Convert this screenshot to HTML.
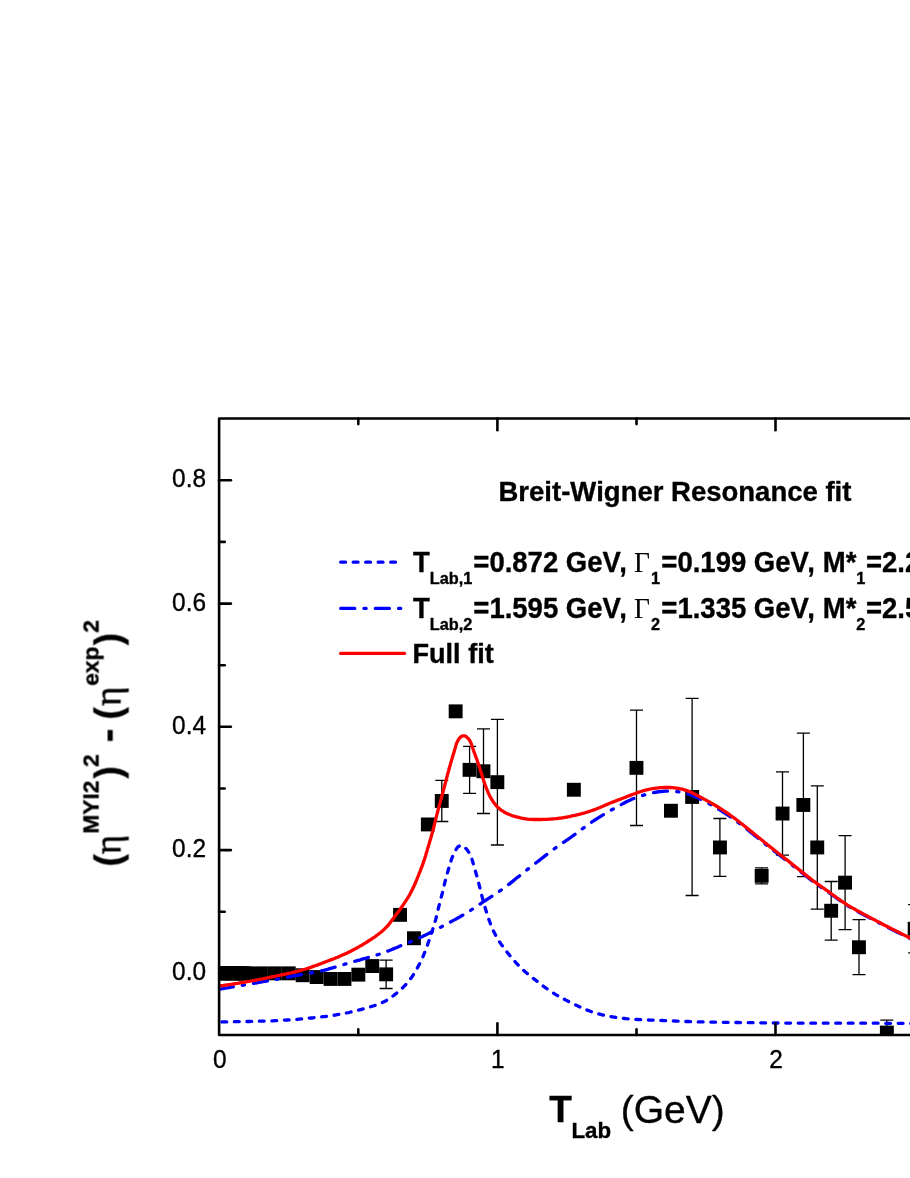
<!DOCTYPE html>
<html><head><meta charset="utf-8"><title>Breit-Wigner Resonance fit</title>
<style>html,body{margin:0;padding:0;background:#fff;overflow:hidden;}svg{display:block;}text{font-family:"Liberation Sans",sans-serif;fill:#000;stroke:#000;stroke-width:0.35px;font-kerning:none;}.b{font-weight:bold;}.sf{font-family:"Liberation Serif",serif;}</style></head><body>
<svg width="910" height="1178" viewBox="0 0 910 1178">
<rect width="910" height="1178" fill="#fff"/>
<filter id="soft" x="0" y="0" width="910" height="1178" filterUnits="userSpaceOnUse"><feGaussianBlur stdDeviation="0.5"/></filter>
<defs><clipPath id="cp"><rect x="219.1" y="418.5" width="695.9" height="616.5"/></clipPath></defs>
<g filter="url(#soft)">
<g clip-path="url(#cp)">
<g stroke="#000" stroke-width="1.3" fill="none">
<path d="M386.1,960.1V988.5M379.6,960.1H392.6M379.6,988.5H392.6"/>
<path d="M441.8,780.3V821.5M435.3,780.3H448.3M435.3,821.5H448.3"/>
<path d="M469.6,746.4V793.3M463.1,746.4H476.1M463.1,793.3H476.1"/>
<path d="M483.5,728.9V813.5M477.0,728.9H490.0M477.0,813.5H490.0"/>
<path d="M497.4,719.3V845.0M490.9,719.3H503.9M490.9,845.0H503.9"/>
<path d="M636.5,710.1V825.5M630.0,710.1H643.0M630.0,825.5H643.0"/>
<path d="M692.1,698.3V895.5M685.6,698.3H698.6M685.6,895.5H698.6"/>
<path d="M719.9,818.5V876.4M713.4,818.5H726.4M713.4,876.4H726.4"/>
<path d="M761.6,867.8V883.8M755.1,867.8H768.1M755.1,883.8H768.1"/>
<path d="M782.5,771.8V855.2M776.0,771.8H789.0M776.0,855.2H789.0"/>
<path d="M803.4,733.1V876.7M796.9,733.1H809.9M796.9,876.7H809.9"/>
<path d="M817.3,785.8V909.1M810.8,785.8H823.8M810.8,909.1H823.8"/>
<path d="M831.2,881.5V940.1M824.7,881.5H837.7M824.7,940.1H837.7"/>
<path d="M845.1,835.6V929.6M838.6,835.6H851.6M838.6,929.6H851.6"/>
<path d="M859.0,919.7V974.7M852.5,919.7H865.5M852.5,974.7H865.5"/>
<path d="M886.8,1020.2V1044.9M880.3,1020.2H893.3M880.3,1044.9H893.3"/>
<path d="M914.6,904.6V952.8M908.1,904.6H921.1M908.1,952.8H921.1"/>
</g>
<g fill="#000">
<rect x="212.3" y="966.4" width="13.9" height="13.9"/>
<rect x="215.1" y="966.4" width="13.9" height="13.9"/>
<rect x="217.9" y="966.4" width="13.9" height="13.9"/>
<rect x="220.6" y="966.4" width="13.9" height="13.9"/>
<rect x="223.4" y="966.4" width="13.9" height="13.9"/>
<rect x="226.2" y="966.4" width="13.9" height="13.9"/>
<rect x="229.0" y="966.4" width="13.9" height="13.9"/>
<rect x="231.8" y="966.4" width="13.9" height="13.9"/>
<rect x="234.6" y="966.4" width="13.9" height="13.9"/>
<rect x="237.3" y="966.4" width="13.9" height="13.9"/>
<rect x="240.1" y="966.4" width="13.9" height="13.9"/>
<rect x="254.0" y="966.4" width="13.9" height="13.9"/>
<rect x="267.9" y="966.4" width="13.9" height="13.9"/>
<rect x="281.8" y="966.4" width="13.9" height="13.9"/>
<rect x="295.7" y="968.3" width="13.9" height="13.9"/>
<rect x="309.7" y="970.1" width="13.9" height="13.9"/>
<rect x="323.6" y="972.0" width="13.9" height="13.9"/>
<rect x="337.5" y="972.0" width="13.9" height="13.9"/>
<rect x="351.4" y="967.7" width="13.9" height="13.9"/>
<rect x="365.3" y="959.1" width="13.9" height="13.9"/>
<rect x="379.2" y="967.4" width="13.9" height="13.9"/>
<rect x="393.1" y="907.9" width="13.9" height="13.9"/>
<rect x="407.0" y="931.3" width="13.9" height="13.9"/>
<rect x="420.9" y="817.5" width="13.9" height="13.9"/>
<rect x="434.8" y="794.0" width="13.9" height="13.9"/>
<rect x="448.7" y="704.4" width="13.9" height="13.9"/>
<rect x="462.6" y="762.9" width="13.9" height="13.9"/>
<rect x="476.5" y="764.3" width="13.9" height="13.9"/>
<rect x="490.4" y="775.2" width="13.9" height="13.9"/>
<rect x="566.9" y="782.8" width="13.9" height="13.9"/>
<rect x="629.5" y="760.9" width="13.9" height="13.9"/>
<rect x="664.0" y="803.8" width="13.9" height="13.9"/>
<rect x="685.2" y="790.0" width="13.9" height="13.9"/>
<rect x="713.0" y="840.5" width="13.9" height="13.9"/>
<rect x="754.7" y="868.9" width="13.9" height="13.9"/>
<rect x="775.6" y="806.6" width="13.9" height="13.9"/>
<rect x="796.4" y="798.0" width="13.9" height="13.9"/>
<rect x="810.3" y="840.5" width="13.9" height="13.9"/>
<rect x="824.2" y="903.8" width="13.9" height="13.9"/>
<rect x="838.1" y="875.7" width="13.9" height="13.9"/>
<rect x="852.0" y="940.3" width="13.9" height="13.9"/>
<rect x="879.9" y="1025.6" width="13.9" height="13.9"/>
<rect x="907.7" y="921.8" width="13.9" height="13.9"/>
</g>
<path d="M219.4,1022.0 L221.4,1022.0 L223.4,1021.9 L225.4,1021.9 L227.4,1021.8 L229.4,1021.8 L231.4,1021.8 L233.4,1021.7 L235.4,1021.7 L237.4,1021.7 L239.4,1021.6 L241.4,1021.6 L243.4,1021.6 L245.4,1021.5 L247.4,1021.5 L249.4,1021.5 L251.4,1021.4 L253.4,1021.4 L255.4,1021.3 L257.4,1021.3 L259.4,1021.2 L261.4,1021.2 L263.4,1021.1 L265.4,1021.1 L267.4,1021.0 L269.4,1020.9 L271.4,1020.9 L273.4,1020.8 L275.4,1020.7 L277.4,1020.6 L279.4,1020.5 L281.4,1020.4 L283.4,1020.3 L285.4,1020.1 L287.4,1020.0 L289.4,1019.9 L291.4,1019.7 L293.4,1019.6 L295.3,1019.4 L297.3,1019.3 L299.3,1019.1 L301.3,1018.9 L303.3,1018.8 L305.3,1018.6 L307.3,1018.4 L309.3,1018.2 L311.3,1018.0 L313.3,1017.8 L315.3,1017.6 L317.2,1017.4 L319.2,1017.2 L321.2,1017.0 L323.2,1016.7 L325.2,1016.5 L327.2,1016.2 L329.2,1015.9 L331.1,1015.7 L333.1,1015.4 L335.1,1015.1 L337.1,1014.7 L339.1,1014.4 L341.0,1014.0 L343.0,1013.7 L344.9,1013.3 L346.9,1012.9 L348.9,1012.5 L350.8,1012.0 L352.8,1011.6 L354.7,1011.1 L356.6,1010.6 L358.6,1010.1 L360.5,1009.6 L362.4,1009.1 L364.4,1008.6 L366.3,1008.0 L368.2,1007.5 L370.2,1006.9 L372.1,1006.3 L374.0,1005.7 L375.9,1005.1 L377.8,1004.4 L379.7,1003.7 L381.5,1002.9 L383.3,1002.1 L385.1,1001.2 L386.8,1000.2 L388.5,999.2 L390.2,998.1 L391.8,996.9 L393.4,995.7 L395.0,994.4 L396.6,993.2 L398.1,991.9 L399.6,990.5 L401.1,989.2 L402.6,987.8 L404.0,986.4 L405.4,985.0 L406.7,983.5 L408.0,982.0 L409.3,980.4 L410.5,978.8 L411.7,977.2 L412.8,975.6 L413.9,973.9 L414.9,972.2 L415.9,970.4 L416.9,968.7 L417.9,966.9 L418.8,965.2 L419.8,963.4 L420.7,961.6 L421.5,959.8 L422.4,958.0 L423.2,956.2 L423.9,954.3 L424.7,952.5 L425.4,950.6 L426.1,948.7 L426.8,946.9 L427.5,945.0 L428.1,943.1 L428.8,941.2 L429.4,939.3 L430.0,937.4 L430.7,935.5 L431.3,933.6 L431.9,931.7 L432.6,929.8 L433.2,927.9 L433.8,926.0 L434.4,924.1 L434.9,922.2 L435.5,920.2 L436.0,918.3 L436.5,916.4 L437.0,914.4 L437.4,912.5 L437.9,910.5 L438.3,908.6 L438.8,906.6 L439.3,904.7 L439.8,902.7 L440.3,900.8 L440.8,898.9 L441.3,896.9 L441.8,895.0 L442.3,893.1 L442.7,891.1 L443.2,889.2 L443.7,887.3 L444.2,885.3 L444.6,883.4 L445.1,881.4 L445.7,879.5 L446.2,877.5 L446.7,875.6 L447.3,873.6 L447.8,871.7 L448.3,869.8 L448.9,867.9 L449.4,866.1 L449.9,864.3 L450.5,862.5 L451.1,860.6 L451.7,858.7 L452.5,856.7 L453.4,854.6 L454.4,852.4 L455.5,850.3 L456.7,848.4 L458.0,846.8 L459.5,845.8 L461.0,845.5 L462.6,845.9 L464.3,847.0 L465.9,848.5 L467.4,850.3 L468.7,852.1 L469.7,854.0 L470.6,855.8 L471.4,857.6 L472.0,859.5 L472.6,861.3 L473.1,863.2 L473.7,865.1 L474.2,867.0 L474.7,868.9 L475.3,870.8 L475.9,872.7 L476.4,874.7 L477.0,876.6 L477.5,878.6 L478.0,880.5 L478.5,882.4 L479.0,884.4 L479.5,886.3 L480.0,888.3 L480.5,890.2 L481.0,892.1 L481.4,894.1 L481.9,896.0 L482.4,897.9 L482.9,899.9 L483.5,901.8 L484.0,903.7 L484.5,905.7 L485.1,907.6 L485.7,909.5 L486.3,911.4 L486.9,913.3 L487.5,915.2 L488.1,917.1 L488.7,919.0 L489.4,920.9 L490.1,922.8 L490.8,924.7 L491.5,926.5 L492.3,928.4 L493.1,930.2 L494.0,932.0 L494.9,933.8 L495.8,935.6 L496.8,937.3 L497.8,939.0 L498.9,940.7 L499.9,942.4 L501.1,944.1 L502.2,945.7 L503.4,947.3 L504.6,948.9 L505.8,950.5 L507.0,952.1 L508.3,953.7 L509.6,955.2 L510.8,956.8 L512.1,958.3 L513.4,959.8 L514.8,961.3 L516.1,962.8 L517.5,964.3 L518.8,965.7 L520.2,967.1 L521.7,968.5 L523.1,969.9 L524.6,971.2 L526.1,972.6 L527.6,973.8 L529.2,975.1 L530.7,976.4 L532.3,977.6 L533.9,978.8 L535.5,980.1 L537.1,981.3 L538.7,982.5 L540.3,983.7 L541.8,984.9 L543.4,986.2 L545.0,987.4 L546.6,988.5 L548.3,989.7 L549.9,990.8 L551.6,991.9 L553.3,993.0 L555.0,994.1 L556.7,995.1 L558.4,996.1 L560.2,997.1 L561.9,998.0 L563.7,999.0 L565.5,999.9 L567.2,1000.8 L569.0,1001.7 L570.8,1002.6 L572.6,1003.5 L574.4,1004.3 L576.2,1005.2 L578.0,1006.1 L579.8,1006.9 L581.7,1007.7 L583.5,1008.5 L585.3,1009.3 L587.2,1010.1 L589.0,1010.8 L590.9,1011.5 L592.8,1012.2 L594.7,1012.8 L596.6,1013.4 L598.6,1013.9 L600.5,1014.4 L602.4,1014.9 L604.4,1015.4 L606.4,1015.8 L608.3,1016.2 L610.3,1016.6 L612.3,1016.9 L614.2,1017.2 L616.2,1017.5 L618.2,1017.8 L620.2,1018.0 L622.2,1018.3 L624.2,1018.5 L626.1,1018.7 L628.1,1018.8 L630.1,1019.0 L632.1,1019.1 L634.1,1019.3 L636.1,1019.4 L638.1,1019.5 L640.1,1019.6 L642.1,1019.7 L644.1,1019.8 L646.1,1019.9 L648.1,1020.0 L650.1,1020.1 L652.1,1020.1 L654.1,1020.2 L656.1,1020.3 L658.1,1020.4 L660.1,1020.4 L662.1,1020.5 L664.1,1020.6 L666.1,1020.7 L668.1,1020.8 L670.1,1020.8 L672.1,1020.9 L674.1,1021.0 L676.1,1021.1 L678.1,1021.2 L680.1,1021.2 L682.1,1021.3 L684.1,1021.4 L686.1,1021.5 L688.1,1021.5 L690.1,1021.6 L692.1,1021.7 L694.1,1021.7 L696.1,1021.8 L698.1,1021.8 L700.1,1021.9 L702.1,1021.9 L704.1,1022.0 L706.1,1022.0 L708.1,1022.1 L710.1,1022.1 L712.1,1022.1 L714.1,1022.2 L716.1,1022.2 L718.1,1022.2 L720.1,1022.3 L722.1,1022.3 L724.1,1022.3 L726.1,1022.4 L728.1,1022.4 L730.1,1022.4 L732.1,1022.4 L734.1,1022.5 L736.1,1022.5 L738.1,1022.5 L740.1,1022.6 L742.1,1022.6 L744.1,1022.6 L746.1,1022.6 L748.1,1022.7 L750.1,1022.7 L752.1,1022.7 L754.1,1022.7 L756.1,1022.8 L758.1,1022.8 L760.1,1022.8 L762.1,1022.8 L764.1,1022.9 L766.1,1022.9 L768.1,1022.9 L770.1,1022.9 L772.1,1022.9 L774.1,1023.0 L776.1,1023.0 L778.1,1023.0 L780.1,1023.0 L782.1,1023.0 L784.1,1023.1 L786.1,1023.1 L788.1,1023.1 L790.1,1023.1 L792.1,1023.1 L794.1,1023.1 L796.1,1023.1 L798.1,1023.1 L800.1,1023.1 L802.1,1023.1 L804.1,1023.2 L806.1,1023.2 L808.1,1023.2 L810.1,1023.2 L812.1,1023.2 L814.1,1023.2 L816.1,1023.2 L818.1,1023.2 L820.1,1023.2 L822.1,1023.2 L824.1,1023.2 L826.1,1023.2 L828.1,1023.2 L830.1,1023.2 L832.1,1023.2 L834.1,1023.2 L836.1,1023.2 L838.1,1023.2 L840.1,1023.2 L842.1,1023.2 L844.1,1023.2 L846.1,1023.2 L848.1,1023.2 L850.1,1023.2 L852.1,1023.2 L854.1,1023.2 L856.1,1023.2 L858.1,1023.2 L860.1,1023.2 L862.1,1023.2 L864.1,1023.2 L866.1,1023.2 L868.1,1023.2 L870.1,1023.2 L872.1,1023.2 L874.1,1023.2 L876.1,1023.2 L878.1,1023.2 L880.1,1023.2 L882.1,1023.2 L884.1,1023.2 L886.1,1023.3 L888.1,1023.3 L890.1,1023.3 L892.1,1023.3 L894.1,1023.3 L896.1,1023.3 L898.1,1023.3 L900.1,1023.3 L902.1,1023.3 L904.1,1023.3 L906.1,1023.4 L908.1,1023.4 L910.1,1023.4 L912.0,1023.4" fill="none" stroke="#0000ff" stroke-width="3.3" stroke-linecap="round" stroke-dasharray="4.8 7.7" stroke-dashoffset="-2.5"/>
<path d="M219.4,989.2 L221.4,988.9 L223.3,988.5 L225.3,988.2 L227.3,987.9 L229.3,987.5 L231.2,987.2 L233.2,986.9 L235.2,986.5 L237.1,986.2 L239.1,985.8 L241.1,985.5 L243.1,985.2 L245.0,984.8 L247.0,984.5 L249.0,984.1 L250.9,983.8 L252.9,983.5 L254.9,983.1 L256.9,982.8 L258.8,982.4 L260.8,982.1 L262.8,981.7 L264.7,981.4 L266.7,981.1 L268.7,980.7 L270.6,980.4 L272.6,980.0 L274.6,979.7 L276.6,979.3 L278.5,978.9 L280.5,978.6 L282.4,978.2 L284.4,977.8 L286.4,977.4 L288.3,977.1 L290.3,976.7 L292.3,976.3 L294.2,975.9 L296.2,975.5 L298.2,975.2 L300.1,974.8 L302.1,974.4 L304.1,974.1 L306.0,973.8 L308.0,973.4 L310.0,973.1 L311.9,972.7 L313.9,972.4 L315.9,972.0 L317.8,971.6 L319.8,971.2 L321.7,970.7 L323.7,970.3 L325.6,969.8 L327.6,969.3 L329.5,968.7 L331.4,968.2 L333.3,967.6 L335.3,967.1 L337.2,966.5 L339.1,966.0 L341.0,965.4 L342.9,964.8 L344.8,964.2 L346.8,963.7 L348.7,963.1 L350.6,962.5 L352.5,962.0 L354.4,961.4 L356.4,960.8 L358.3,960.3 L360.2,959.8 L362.1,959.2 L364.1,958.7 L366.0,958.2 L367.9,957.6 L369.9,957.1 L371.8,956.5 L373.7,956.0 L375.6,955.4 L377.5,954.8 L379.4,954.2 L381.3,953.5 L383.2,952.9 L385.1,952.2 L386.9,951.5 L388.8,950.7 L390.6,950.0 L392.5,949.2 L394.3,948.4 L396.2,947.7 L398.0,946.9 L399.9,946.1 L401.7,945.3 L403.6,944.6 L405.4,943.8 L407.3,943.0 L409.1,942.3 L411.0,941.5 L412.8,940.8 L414.7,940.0 L416.5,939.2 L418.3,938.4 L420.1,937.5 L422.0,936.7 L423.8,935.8 L425.6,935.0 L427.3,934.1 L429.1,933.2 L430.9,932.3 L432.7,931.3 L434.5,930.4 L436.2,929.5 L438.0,928.6 L439.8,927.7 L441.6,926.7 L443.3,925.8 L445.1,924.9 L446.9,923.9 L448.6,923.0 L450.4,922.0 L452.2,921.1 L453.9,920.1 L455.7,919.2 L457.4,918.2 L459.2,917.2 L460.9,916.2 L462.6,915.3 L464.4,914.2 L466.1,913.2 L467.8,912.2 L469.5,911.1 L471.2,910.0 L472.8,908.9 L474.5,907.8 L476.2,906.7 L477.8,905.6 L479.5,904.5 L481.1,903.3 L482.8,902.2 L484.4,901.1 L486.1,900.0 L487.8,898.9 L489.5,897.8 L491.2,896.7 L492.8,895.6 L494.5,894.5 L496.2,893.4 L497.8,892.3 L499.5,891.2 L501.1,890.1 L502.8,888.9 L504.4,887.8 L506.0,886.6 L507.6,885.3 L509.2,884.1 L510.7,882.9 L512.3,881.6 L513.8,880.4 L515.4,879.1 L516.9,877.8 L518.5,876.6 L520.1,875.3 L521.6,874.1 L523.2,872.8 L524.8,871.6 L526.3,870.4 L527.9,869.1 L529.5,867.9 L531.1,866.7 L532.7,865.5 L534.3,864.3 L535.8,863.0 L537.4,861.8 L539.0,860.6 L540.6,859.3 L542.1,858.1 L543.7,856.9 L545.3,855.6 L546.9,854.4 L548.5,853.2 L550.0,852.0 L551.6,850.8 L553.2,849.6 L554.9,848.4 L556.5,847.2 L558.1,846.1 L559.8,844.9 L561.4,843.8 L563.1,842.7 L564.7,841.6 L566.4,840.4 L568.0,839.3 L569.7,838.2 L571.3,837.0 L572.9,835.8 L574.5,834.7 L576.1,833.5 L577.7,832.3 L579.3,831.1 L580.9,829.8 L582.5,828.7 L584.2,827.5 L585.8,826.3 L587.4,825.1 L589.0,824.0 L590.7,822.9 L592.3,821.7 L594.0,820.6 L595.7,819.5 L597.4,818.4 L599.0,817.4 L600.7,816.3 L602.4,815.3 L604.2,814.2 L605.9,813.2 L607.6,812.2 L609.4,811.2 L611.1,810.2 L612.8,809.3 L614.6,808.3 L616.3,807.3 L618.1,806.3 L619.8,805.4 L621.6,804.4 L623.3,803.4 L625.1,802.5 L626.9,801.6 L628.7,800.7 L630.5,799.9 L632.3,799.1 L634.2,798.3 L636.1,797.6 L638.0,796.9 L639.8,796.3 L641.8,795.7 L643.7,795.1 L645.6,794.6 L647.5,794.1 L649.5,793.6 L651.4,793.1 L653.4,792.7 L655.3,792.3 L657.3,792.0 L659.3,791.7 L661.3,791.5 L663.3,791.3 L665.3,791.2 L667.3,791.1 L669.3,791.1 L671.3,791.2 L673.3,791.3 L675.3,791.5 L677.3,791.7 L679.3,792.0 L681.2,792.3 L683.2,792.7 L685.1,793.2 L687.1,793.7 L689.0,794.3 L690.9,795.0 L692.7,795.7 L694.6,796.5 L696.4,797.3 L698.2,798.1 L700.1,799.0 L701.9,799.9 L703.6,800.8 L705.4,801.7 L707.2,802.6 L708.9,803.6 L710.7,804.6 L712.4,805.6 L714.1,806.6 L715.9,807.6 L717.6,808.6 L719.3,809.7 L721.0,810.7 L722.7,811.8 L724.4,812.9 L726.0,813.9 L727.7,815.0 L729.4,816.2 L731.0,817.3 L732.7,818.4 L734.3,819.6 L735.9,820.8 L737.5,822.0 L739.1,823.2 L740.7,824.4 L742.3,825.6 L743.9,826.8 L745.5,828.1 L747.0,829.3 L748.6,830.5 L750.1,831.8 L751.7,833.1 L753.3,834.3 L754.8,835.6 L756.4,836.8 L757.9,838.1 L759.5,839.4 L761.0,840.6 L762.6,841.9 L764.1,843.1 L765.7,844.4 L767.2,845.6 L768.8,846.9 L770.4,848.1 L771.9,849.4 L773.5,850.6 L775.1,851.8 L776.7,853.0 L778.3,854.3 L779.9,855.5 L781.4,856.7 L783.0,857.9 L784.6,859.1 L786.2,860.4 L787.8,861.6 L789.3,862.8 L790.9,864.1 L792.5,865.3 L794.0,866.6 L795.6,867.8 L797.2,869.0 L798.7,870.3 L800.3,871.5 L801.9,872.8 L803.4,874.0 L805.0,875.3 L806.6,876.5 L808.1,877.7 L809.7,879.0 L811.3,880.2 L812.9,881.4 L814.5,882.6 L816.1,883.8 L817.8,884.9 L819.4,886.1 L821.0,887.2 L822.7,888.4 L824.3,889.5 L826.0,890.6 L827.6,891.8 L829.3,892.9 L830.9,894.0 L832.5,895.2 L834.2,896.4 L835.8,897.5 L837.4,898.7 L839.1,899.9 L840.7,901.0 L842.3,902.2 L844.0,903.3 L845.6,904.4 L847.3,905.5 L849.0,906.6 L850.7,907.6 L852.4,908.6 L854.2,909.6 L855.9,910.6 L857.7,911.5 L859.4,912.5 L861.2,913.4 L863.0,914.3 L864.7,915.3 L866.5,916.2 L868.3,917.1 L870.0,918.1 L871.8,919.0 L873.6,920.0 L875.3,920.9 L877.1,921.9 L878.9,922.8 L880.6,923.7 L882.4,924.7 L884.2,925.6 L886.0,926.5 L887.8,927.4 L889.5,928.3 L891.3,929.2 L893.1,930.1 L894.9,931.0 L896.7,931.9 L898.5,932.8 L900.3,933.6 L902.1,934.5 L903.9,935.4 L905.7,936.3 L907.4,937.2 L909.2,938.1 L911.0,939.0 L912.0,939.5" fill="none" stroke="#0000ff" stroke-width="3.3" stroke-linecap="round" stroke-dasharray="14.1 9.15 2.2 9.15"/>
<path d="M219.4,986.0 L221.4,985.7 L223.4,985.5 L225.3,985.2 L227.3,984.9 L229.3,984.6 L231.3,984.3 L233.3,984.0 L235.2,983.7 L237.2,983.4 L239.2,983.0 L241.2,982.7 L243.1,982.4 L245.1,982.1 L247.1,981.7 L249.0,981.4 L251.0,981.0 L253.0,980.6 L254.9,980.3 L256.9,979.9 L258.9,979.5 L260.8,979.1 L262.8,978.8 L264.8,978.4 L266.7,978.0 L268.7,977.6 L270.6,977.2 L272.6,976.7 L274.5,976.3 L276.5,975.9 L278.5,975.5 L280.4,975.1 L282.4,974.7 L284.3,974.3 L286.3,973.9 L288.3,973.4 L290.2,973.0 L292.2,972.6 L294.1,972.1 L296.1,971.6 L298.0,971.1 L299.9,970.6 L301.8,970.1 L303.8,969.5 L305.7,969.0 L307.6,968.4 L309.5,967.7 L311.4,967.1 L313.3,966.4 L315.1,965.7 L317.0,965.1 L318.9,964.4 L320.8,963.7 L322.6,963.0 L324.5,962.2 L326.4,961.5 L328.3,960.8 L330.1,960.1 L332.0,959.4 L333.9,958.7 L335.7,957.9 L337.6,957.2 L339.4,956.4 L341.3,955.6 L343.1,954.8 L344.9,954.0 L346.7,953.2 L348.5,952.3 L350.3,951.4 L352.1,950.5 L353.9,949.6 L355.6,948.6 L357.4,947.7 L359.1,946.7 L360.8,945.7 L362.6,944.7 L364.3,943.6 L366.0,942.6 L367.7,941.5 L369.4,940.4 L371.1,939.3 L372.8,938.2 L374.5,937.1 L376.1,935.9 L377.7,934.7 L379.3,933.5 L380.9,932.3 L382.4,931.0 L383.9,929.6 L385.3,928.2 L386.7,926.8 L388.0,925.3 L389.3,923.8 L390.5,922.2 L391.7,920.6 L392.9,919.0 L394.1,917.4 L395.3,915.7 L396.5,914.1 L397.7,912.5 L398.9,910.9 L400.1,909.3 L401.2,907.7 L402.4,906.1 L403.5,904.4 L404.6,902.8 L405.7,901.1 L406.8,899.4 L407.9,897.7 L408.9,896.0 L409.9,894.3 L410.8,892.5 L411.7,890.7 L412.6,888.9 L413.5,887.1 L414.3,885.3 L415.1,883.5 L415.9,881.6 L416.7,879.8 L417.4,877.9 L418.2,876.1 L418.9,874.2 L419.7,872.4 L420.4,870.5 L421.1,868.6 L421.8,866.8 L422.5,864.9 L423.2,863.0 L423.8,861.1 L424.5,859.2 L425.1,857.3 L425.7,855.4 L426.2,853.5 L426.8,851.6 L427.4,849.6 L427.9,847.7 L428.5,845.8 L429.1,843.9 L429.6,842.0 L430.2,840.1 L430.8,838.1 L431.3,836.2 L431.9,834.3 L432.4,832.4 L433.0,830.4 L433.5,828.5 L433.9,826.6 L434.4,824.6 L434.9,822.7 L435.4,820.7 L435.8,818.8 L436.3,816.8 L436.8,814.9 L437.3,813.0 L437.8,811.0 L438.3,809.1 L438.8,807.2 L439.4,805.2 L439.9,803.3 L440.4,801.4 L441.0,799.5 L441.5,797.5 L442.0,795.6 L442.5,793.7 L443.1,791.7 L443.6,789.8 L444.1,787.9 L444.6,785.9 L445.1,784.0 L445.6,782.1 L446.1,780.1 L446.6,778.2 L447.1,776.3 L447.6,774.3 L448.1,772.4 L448.7,770.5 L449.2,768.5 L449.7,766.6 L450.3,764.7 L450.8,762.8 L451.4,760.9 L452.0,758.9 L452.5,757.0 L453.1,755.1 L453.7,753.2 L454.3,751.3 L454.8,749.4 L455.4,747.4 L455.9,745.5 L456.5,743.6 L457.3,741.7 L458.2,740.0 L459.4,738.3 L461.0,736.8 L462.8,735.8 L464.6,735.8 L466.5,736.8 L468.0,738.3 L469.3,739.9 L470.3,741.6 L471.1,743.4 L471.8,745.3 L472.4,747.2 L473.1,749.1 L473.7,751.0 L474.4,752.9 L475.1,754.8 L475.8,756.7 L476.5,758.5 L477.2,760.4 L477.8,762.3 L478.5,764.2 L479.1,766.1 L479.7,768.0 L480.3,769.9 L480.9,771.8 L481.5,773.7 L482.1,775.6 L482.7,777.5 L483.3,779.4 L483.9,781.3 L484.6,783.2 L485.2,785.1 L485.9,787.0 L486.7,788.9 L487.4,790.7 L488.2,792.6 L489.0,794.4 L489.9,796.2 L490.8,797.9 L491.9,799.7 L492.9,801.4 L494.1,803.0 L495.3,804.6 L496.6,806.1 L498.1,807.5 L499.6,808.9 L501.1,810.1 L502.8,811.2 L504.5,812.3 L506.3,813.2 L508.1,814.0 L510.0,814.8 L511.8,815.5 L513.7,816.1 L515.7,816.7 L517.6,817.2 L519.5,817.7 L521.5,818.1 L523.5,818.5 L525.4,818.8 L527.4,819.1 L529.4,819.3 L531.4,819.4 L533.4,819.5 L535.4,819.5 L537.4,819.5 L539.4,819.5 L541.4,819.5 L543.4,819.4 L545.4,819.3 L547.4,819.3 L549.4,819.1 L551.4,819.0 L553.4,818.8 L555.4,818.7 L557.4,818.5 L559.4,818.2 L561.3,818.0 L563.3,817.7 L565.3,817.3 L567.3,817.0 L569.2,816.6 L571.2,816.2 L573.1,815.7 L575.1,815.3 L577.0,814.8 L579.0,814.4 L580.9,813.9 L582.8,813.3 L584.8,812.8 L586.7,812.2 L588.6,811.6 L590.5,811.0 L592.4,810.4 L594.3,809.7 L596.1,809.0 L598.0,808.2 L599.9,807.5 L601.7,806.7 L603.5,805.9 L605.4,805.1 L607.2,804.4 L609.1,803.6 L610.9,802.8 L612.8,802.1 L614.6,801.4 L616.5,800.6 L618.4,799.9 L620.2,799.2 L622.1,798.5 L624.0,797.8 L625.9,797.1 L627.7,796.3 L629.6,795.6 L631.4,794.9 L633.3,794.2 L635.2,793.5 L637.1,792.8 L639.0,792.1 L640.9,791.5 L642.8,790.9 L644.7,790.4 L646.6,789.9 L648.6,789.4 L650.5,789.0 L652.5,788.6 L654.5,788.3 L656.5,788.1 L658.5,787.9 L660.5,787.7 L662.5,787.6 L664.5,787.5 L666.5,787.5 L668.5,787.5 L670.5,787.5 L672.5,787.6 L674.5,787.8 L676.4,788.1 L678.4,788.4 L680.4,788.8 L682.3,789.2 L684.3,789.8 L686.2,790.4 L688.1,791.1 L689.9,791.8 L691.7,792.6 L693.5,793.5 L695.3,794.4 L697.1,795.4 L698.8,796.3 L700.6,797.3 L702.4,798.2 L704.1,799.2 L705.9,800.1 L707.6,801.1 L709.4,802.0 L711.1,803.0 L712.9,804.0 L714.6,805.0 L716.3,806.0 L718.0,807.0 L719.7,808.1 L721.4,809.2 L723.1,810.3 L724.8,811.4 L726.4,812.5 L728.1,813.6 L729.7,814.8 L731.3,816.0 L732.9,817.1 L734.6,818.3 L736.2,819.5 L737.8,820.7 L739.3,822.0 L740.9,823.2 L742.5,824.4 L744.1,825.7 L745.6,826.9 L747.2,828.2 L748.7,829.4 L750.3,830.7 L751.8,831.9 L753.4,833.2 L754.9,834.5 L756.5,835.7 L758.0,837.0 L759.6,838.3 L761.1,839.5 L762.7,840.8 L764.2,842.1 L765.8,843.3 L767.3,844.6 L768.9,845.8 L770.5,847.1 L772.0,848.3 L773.6,849.6 L775.2,850.8 L776.7,852.0 L778.3,853.3 L779.9,854.5 L781.5,855.7 L783.1,856.9 L784.6,858.2 L786.2,859.4 L787.8,860.6 L789.4,861.9 L790.9,863.1 L792.5,864.4 L794.1,865.6 L795.6,866.9 L797.2,868.1 L798.7,869.4 L800.3,870.6 L801.8,871.9 L803.4,873.1 L805.0,874.4 L806.5,875.6 L808.1,876.9 L809.7,878.1 L811.3,879.3 L812.8,880.5 L814.4,881.7 L816.1,882.9 L817.7,884.1 L819.3,885.2 L821.0,886.4 L822.6,887.5 L824.3,888.7 L825.9,889.8 L827.5,890.9 L829.2,892.1 L830.8,893.3 L832.4,894.5 L834.0,895.7 L835.6,896.8 L837.2,898.0 L838.9,899.2 L840.5,900.3 L842.1,901.5 L843.8,902.6 L845.5,903.7 L847.2,904.8 L848.9,905.8 L850.6,906.8 L852.3,907.9 L854.0,908.8 L855.8,909.8 L857.5,910.8 L859.3,911.7 L861.1,912.7 L862.8,913.6 L864.6,914.6 L866.3,915.5 L868.1,916.5 L869.9,917.4 L871.6,918.4 L873.4,919.3 L875.2,920.2 L876.9,921.2 L878.7,922.1 L880.5,923.0 L882.2,924.0 L884.0,924.9 L885.8,925.8 L887.6,926.7 L889.4,927.6 L891.1,928.5 L892.9,929.4 L894.7,930.3 L896.5,931.2 L898.3,932.1 L900.1,933.0 L901.9,933.9 L903.6,934.8 L905.4,935.7 L907.2,936.6 L909.0,937.5 L910.8,938.4 L912.0,939.0" fill="none" stroke="#ff0000" stroke-width="3.3" stroke-linecap="round" stroke-linejoin="round"/>
</g>
<g stroke="#000" stroke-width="2.6" fill="none" stroke-linecap="round">
<path d="M915,418.5H219.1V1035.0H915" stroke-linejoin="round" stroke-linecap="butt"/>
<path d="M219.1,973.4h11.8"/>
<path d="M219.1,911.8h5.6"/>
<path d="M219.1,850.1h11.8"/>
<path d="M219.1,788.5h5.6"/>
<path d="M219.1,726.8h11.8"/>
<path d="M219.1,665.2h5.6"/>
<path d="M219.1,603.6h11.8"/>
<path d="M219.1,541.9h5.6"/>
<path d="M219.1,480.3h11.8"/>
<path d="M358.3,1035.0v-5.6"/>
<path d="M358.3,418.5v5.6"/>
<path d="M497.4,1035.0v-11.8"/>
<path d="M497.4,418.5v11.8"/>
<path d="M636.5,1035.0v-5.6"/>
<path d="M636.5,418.5v5.6"/>
<path d="M775.5,1035.0v-11.8"/>
<path d="M775.5,418.5v11.8"/>
<path d="M914.6,1035.0v-5.6"/>
<path d="M914.6,418.5v5.6"/>
</g>
<text transform="translate(206.0,980.3) scale(1,1.04)" font-size="24.4" text-anchor="end">0.0</text>
<text transform="translate(206.0,857.0) scale(1,1.04)" font-size="24.4" text-anchor="end">0.2</text>
<text transform="translate(206.0,733.7) scale(1,1.04)" font-size="24.4" text-anchor="end">0.4</text>
<text transform="translate(206.0,610.5) scale(1,1.04)" font-size="24.4" text-anchor="end">0.6</text>
<text transform="translate(206.0,487.2) scale(1,1.04)" font-size="24.4" text-anchor="end">0.8</text>
<text transform="translate(219.8,1068.0) scale(1,1.04)" font-size="24.4" text-anchor="middle">0</text>
<text transform="translate(497.9,1068.0) scale(1,1.04)" font-size="24.4" text-anchor="middle">1</text>
<text transform="translate(776.0,1068.0) scale(1,1.04)" font-size="24.4" text-anchor="middle">2</text>
<text x="549.2" y="1122.4" font-size="37" class="b">T</text>
<text x="571.4" y="1137.6" font-size="22.3" class="b">Lab</text>
<text x="620.7" y="1123.0" font-size="39">(GeV)</text>
<text transform="translate(120.5,866.5) rotate(-90)" font-size="37" class="b">(<tspan class="sf" font-weight="normal" stroke="#000" stroke-width="0.5">η</tspan><tspan font-size="22.8" dy="-21.9" dx="1.1">MYI2</tspan><tspan dy="21.9" dx="1.9">)</tspan><tspan font-size="22.8" dy="-21.9" dx="-0.8">2</tspan><tspan dy="21.9" dx="0.7" font-size="41"> -</tspan><tspan dx="-1.2"> (</tspan><tspan class="sf" font-weight="normal" stroke="#000" stroke-width="0.5" dx="1.3">η</tspan><tspan font-size="22.8" dy="-21.9" dx="0.7">exp</tspan><tspan dy="21.9" dx="1.4">)</tspan><tspan font-size="22.8" dy="-21.9">2</tspan></text>
<text transform="translate(498.5,501.3) scale(1,1.03)" font-size="27.5" class="b">Breit-Wigner Resonance fit</text>
<text transform="translate(413,571.9) scale(1,1.04)" font-size="27.5" class="b">T<tspan font-size="16.3" dy="11.35">Lab,1</tspan><tspan dy="-11.35" dx="1">=0.872 GeV<tspan dx="-1.6">, </tspan></tspan><tspan class="sf" font-weight="normal" stroke-width="0.15" dx="-0.4">Γ</tspan><tspan font-size="16.3" dy="11.35" dx="1">1</tspan><tspan dy="-11.35" dx="1.3">=0.199 GeV<tspan dx="-1.6">,</tspan></tspan><tspan dx="0.2"> M*</tspan><tspan font-size="16.3" dy="11.35">1</tspan><tspan dy="-11.35" dx="0.5">=2.267 GeV</tspan></text>
<text transform="translate(413,617.9) scale(1,1.04)" font-size="27.5" class="b">T<tspan font-size="16.3" dy="11.35">Lab,2</tspan><tspan dy="-11.35" dx="1">=1.595 GeV<tspan dx="-1.6">, </tspan></tspan><tspan class="sf" font-weight="normal" stroke-width="0.15" dx="-0.4">Γ</tspan><tspan font-size="16.3" dy="11.35" dx="1">2</tspan><tspan dy="-11.35" dx="1.3">=1.335 GeV<tspan dx="-1.6">,</tspan></tspan><tspan dx="0.2"> M*</tspan><tspan font-size="16.3" dy="11.35">2</tspan><tspan dy="-11.35" dx="0.5">=2.569 GeV</tspan></text>
<text transform="translate(412.5,663.4) scale(1,1.02)" font-size="27.1" class="b">Full fit</text>
<path d="M340.7,562.2H395.5" fill="none" stroke="#0000ff" stroke-width="3.3" stroke-linecap="round" stroke-dasharray="4.8 7.7"/>
<path d="M340.7,608.4H401" fill="none" stroke="#0000ff" stroke-width="3.3" stroke-linecap="round" stroke-dasharray="14.1 9.15 2.2 9.15"/>
<path d="M340.7,653.4H404.5" fill="none" stroke="#ff0000" stroke-width="3.3" stroke-linecap="round"/>
</g>
</svg></body></html>
